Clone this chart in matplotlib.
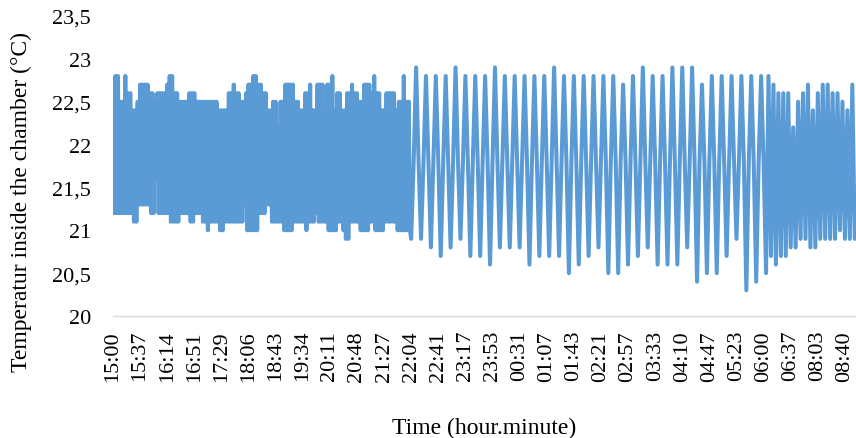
import numpy as np
import matplotlib
matplotlib.use("Agg")
import matplotlib.pyplot as plt
from matplotlib.ticker import FuncFormatter

# ---- data ----
time_labels = ["15:00", "15:37", "16:14", "16:51", "17:29", "18:06", "18:43",
               "19:34", "20:11", "20:48", "21:27", "22:04", "22:41", "23:17",
               "23:53", "00:31", "01:07", "01:43", "02:21", "02:57", "03:33",
               "04:10", "04:47", "05:23", "06:00", "06:37", "08:03", "08:40"]

# first phase (15:00-22:04): fast alternation, high and low readings
phase1_high = [21.8, 22.8, 22.8, 22.5, 22.5, 22.8, 22.6, 22.6, 22.4, 22.4,
               22.5, 22.7, 22.7, 22.7, 22.7, 22.6, 22.6, 22.5, 22.6, 22.6,
               22.6, 22.6, 22.7, 22.8, 22.8, 22.6, 22.6, 22.5, 22.5, 22.5,
               22.5, 22.6, 22.6, 22.6, 22.5, 22.5, 22.5, 22.5, 22.5, 22.5,
               22.5, 22.5, 22.5, 22.4, 22.4, 22.4, 22.4, 22.6, 22.6, 22.7,
               22.6, 22.6, 22.5, 22.5, 22.6, 22.7, 22.7, 22.8, 22.8, 22.7,
               22.7, 22.6, 22.6, 22.4, 22.4, 22.5, 22.5, 22.2, 22.5, 22.5,
               22.7, 22.7, 22.7, 22.7, 22.5, 22.5, 22.4, 22.4, 22.6, 22.6,
               22.7, 22.4, 22.4, 22.7, 22.7, 22.7, 22.4, 22.7, 22.7, 22.8,
               22.4, 22.6, 22.6, 22.4, 22.4, 22.6, 22.6, 22.7, 22.6, 22.6,
               22.5, 22.5, 22.7, 22.7, 22.7, 22.6, 22.8, 22.6, 22.6, 22.4,
               22.4, 22.6, 22.6, 22.6, 22.6, 22.4, 22.5, 22.5, 22.8, 22.5,
               22.5]
phase1_low = [21.2, 21.2, 21.2, 21.2, 21.2, 21.2, 21.2, 21.2, 21.1, 21.1,
              21.3, 21.3, 21.3, 21.3, 21.3, 21.2, 21.2, 21.6, 21.2, 21.2,
              21.2, 21.2, 21.2, 21.1, 21.1, 21.1, 21.1, 21.2, 21.2, 21.2,
              21.2, 21.1, 21.1, 21.2, 21.2, 21.2, 21.1, 21.1, 21.0, 21.1,
              21.1, 21.1, 21.1, 21.0, 21.0, 21.1, 21.1, 21.1, 21.1, 21.1,
              21.1, 21.1, 21.1, 21.3, 21.0, 21.0, 21.0, 21.0, 21.0, 21.2,
              21.2, 21.2, 21.3, 21.3, 21.1, 21.1, 21.1, 21.1, 21.1, 21.0,
              21.0, 21.0, 21.0, 21.1, 21.1, 21.1, 21.1, 21.1, 21.0, 21.1,
              21.1, 21.1, 21.2, 21.1, 21.1, 21.1, 21.1, 21.0, 21.0, 21.0,
              21.0, 21.1, 21.1, 21.0, 20.9, 20.9, 21.1, 21.1, 21.1, 21.1,
              21.0, 21.0, 21.0, 21.0, 21.1, 21.1, 21.0, 21.0, 21.0, 21.0,
              21.1, 21.1, 21.1, 21.1, 21.1, 21.0, 21.0, 21.0, 21.0, 21.0,
              21.0]

# second phase (22:04-06:00): slow cycles passing the 21.8 set point
setpoint = 21.8
phase2_first_low = 20.9
phase2_peaks = [22.9, 22.8, 22.8, 22.8, 22.9, 22.8, 22.8, 22.8, 22.9, 22.8,
                22.8, 22.8, 22.8, 22.8, 22.9, 22.8, 22.8, 22.8, 22.8, 22.8,
                22.8, 22.7, 22.8, 22.9, 22.8, 22.8, 22.9, 22.9, 22.9, 22.7,
                22.8, 22.8, 22.8, 22.8, 22.8, 22.8]
phase2_troughs = [20.9, 20.8, 20.7, 20.8, 20.9, 20.7, 20.7, 20.6, 20.8, 20.8,
                  20.8, 20.6, 20.7, 20.7, 20.7, 20.5, 20.6, 20.7, 20.8, 20.5,
                  20.5, 20.6, 20.7, 20.8, 20.6, 20.6, 20.6, 20.8, 20.4, 20.5,
                  20.5, 20.7, 20.9, 20.3, 20.4, 20.5]

# third phase (06:00-08:40): quicker alternation again
phase3_high = [22.8, 22.7, 22.6, 22.6, 22.6, 22.2, 22.5, 22.6, 22.7, 22.4,
               22.6, 22.7, 22.7, 22.6, 22.6, 22.5, 22.4, 22.7]
phase3_low = [20.7, 20.6, 20.7, 20.7, 20.8, 20.8, 20.9, 20.9, 20.8, 20.8,
              20.9, 20.9, 20.9, 20.9, 21.0, 20.9, 20.9, 20.9]

# sampling interval (in axis units) of each phase
STEP_FAST = 1
STEP_SLOW = 2
LABEL_STEP = 22

# ---- assemble the series in recorded order ----
seg1 = []
for h, l in zip(phase1_high, phase1_low):
    seg1 += [h, l]
seg2 = [phase2_first_low, setpoint]
for j, (p, t) in enumerate(zip(phase2_peaks, phase2_troughs)):
    seg2 += [p, setpoint, t]
    if j < len(phase2_peaks) - 1:
        seg2.append(setpoint)
seg3 = []
for h, l in zip(phase3_high, phase3_low):
    seg3 += [h, l]

x1 = np.arange(len(seg1)) * STEP_FAST
x2 = x1[-1] + STEP_FAST + np.arange(len(seg2)) * STEP_SLOW
x3 = x2[-1] + STEP_SLOW + np.arange(len(seg3)) * STEP_SLOW
x = np.concatenate([x1, x2, x3])
temps = np.array(seg1 + seg2 + seg3)

# ---- plotting ----
plt.rcParams['font.family'] = ['Liberation Serif', 'DejaVu Serif']
plt.rcParams['path.simplify'] = False
fig = plt.figure(figsize=(8.56, 4.39), dpi=100)
ax = fig.add_axes([113 / 856, (439 - 317) / 439, (856 - 113) / 856, 300 / 439])

ax.plot(x, temps, color='#5B9BD5', lw=2.9,
        solid_joinstyle='round', solid_capstyle='round')

ax.set_xlim(0, x[-1] + 1)
ax.set_ylim(20, 23.5)
ax.set_yticks(np.arange(20, 23.51, 0.5))
ax.yaxis.set_major_formatter(FuncFormatter(lambda v, p: f"{v:g}".replace('.', ',')))
ax.set_xticks(np.arange(len(time_labels)) * LABEL_STEP)
ax.set_xticklabels(time_labels, rotation=90, va='top', ha='center')

for s in ['left', 'right', 'top']:
    ax.spines[s].set_visible(False)
ax.spines['bottom'].set_color('#D9D9D9')
ax.spines['bottom'].set_linewidth(1.0)
ax.tick_params(axis='both', length=0, labelsize=16, colors='black')
ax.tick_params(axis='x', pad=10)
ax.tick_params(axis='y', pad=16)

fig.text((113 + 856) / 2 / 856, 1 - 428 / 439, 'Time (hour.minute)',
         ha='center', va='center', fontsize=17)
fig.text(21 / 856, 1 - 201.5 / 439, 'Temperatur inside the chamber (°C)',
         ha='center', va='center', rotation=90, fontsize=17)

fig.savefig('out.png', dpi=100)
